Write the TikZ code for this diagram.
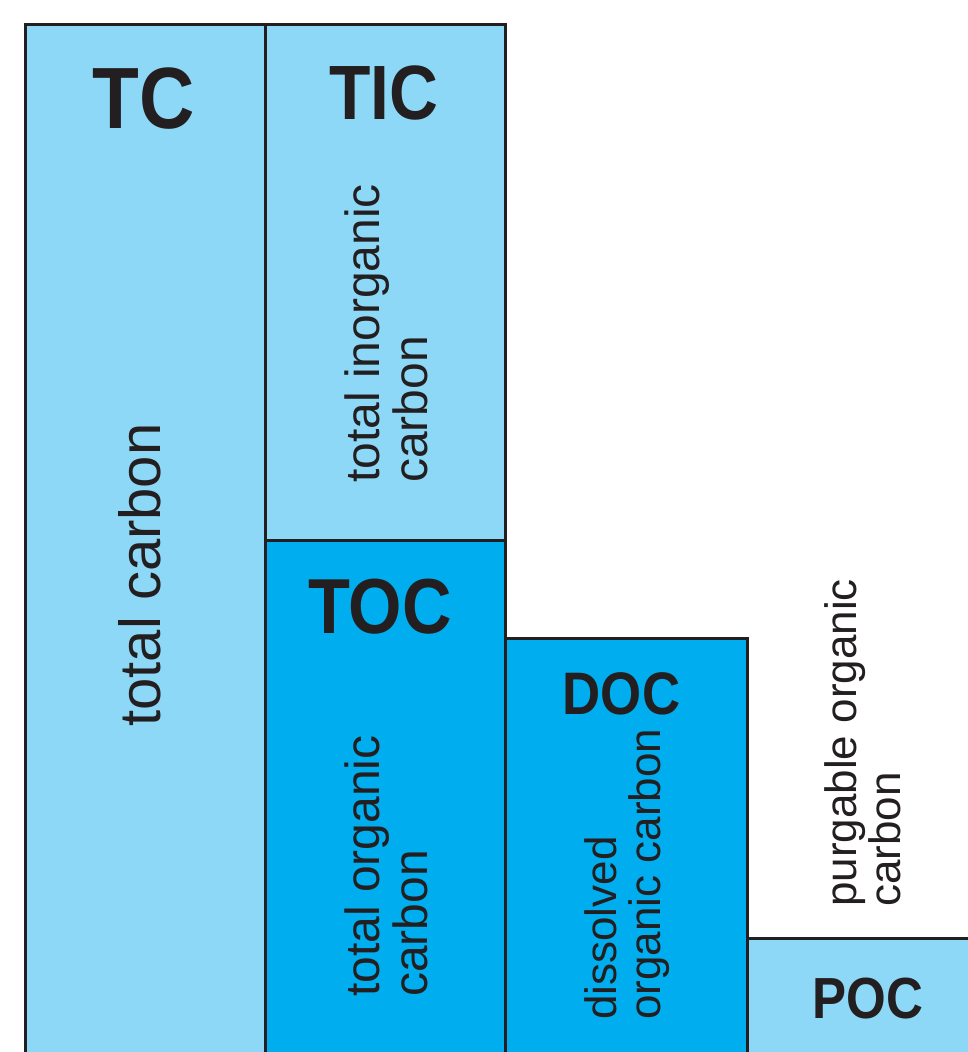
\documentclass[tikz,border=0pt]{standalone}
\usepackage{fontspec}
\setmainfont{Liberation Sans}
\newfontfamily\titlefont[FakeStretch=0.88]{Liberation Sans}
\definecolor{lightblue}{HTML}{8DD8F7}
\definecolor{darkblue}{HTML}{00ADEE}
\definecolor{ink}{HTML}{231F20}
\tikzset{
  boxline/.style={draw=ink, line width=3pt},
  title/.style={inner sep=0pt, text=ink, font=\titlefont\bfseries\fontsize{#1}{#1}\selectfont},
  vlabel/.style={inner sep=0pt, text=ink, rotate=90, align=left, font=\fontsize{#1}{#1}\selectfont}
}
\begin{document}
\begin{tikzpicture}[x=1pt, y=-1pt]
\useasboundingbox (0,0) rectangle (968,1052);
\clip (0,0) rectangle (968,1052);
% boxes
\path[fill=lightblue] (25,24) rectangle (265,1070);
\path[fill=lightblue] (265,24) rectangle (505,540);
\path[fill=darkblue] (265,540) rectangle (505,1070);
\path[fill=darkblue] (505,638) rectangle (747,1070);
\path[fill=lightblue] (747,938) rectangle (990,1070);
\draw[boxline] (25,1070) -- (25,24) -- (505,24) -- (505,1070);
\draw[boxline] (265,24) -- (265,1070);
\draw[boxline] (265,540) -- (505,540);
\draw[boxline] (505,638) -- (747,638) -- (747,1070);
\draw[boxline] (747,938) -- (990,938);
% titles
\node[title=87] (tc) at (144,98.5) {TC};
\node[title=77] (tic) at (384,92.5) {TIC};
\node[title=78] (toc) at (380,606.5) {TOC};
\node[title=60] (doc) at (621.5,693.5) {DOC};
\node[title=58] (poc) at (868,999) {POC};
% vertical labels
\node[vlabel=58] (tcl) at (140,575) {total carbon};
\node[vlabel=48, anchor=base west] (ticl) at (427,483) {total inorganic\\carbon};
\node[vlabel=48, anchor=base west] (tocl) at (427,997) {total organic\\carbon};
\node[vlabel=44, anchor=base west] (docl) at (660,1020) {dissolved\\organic carbon};
\node[vlabel=44, anchor=base west] (pocl) at (900,907) {purgable organic\\carbon};
\end{tikzpicture}
\end{document}
